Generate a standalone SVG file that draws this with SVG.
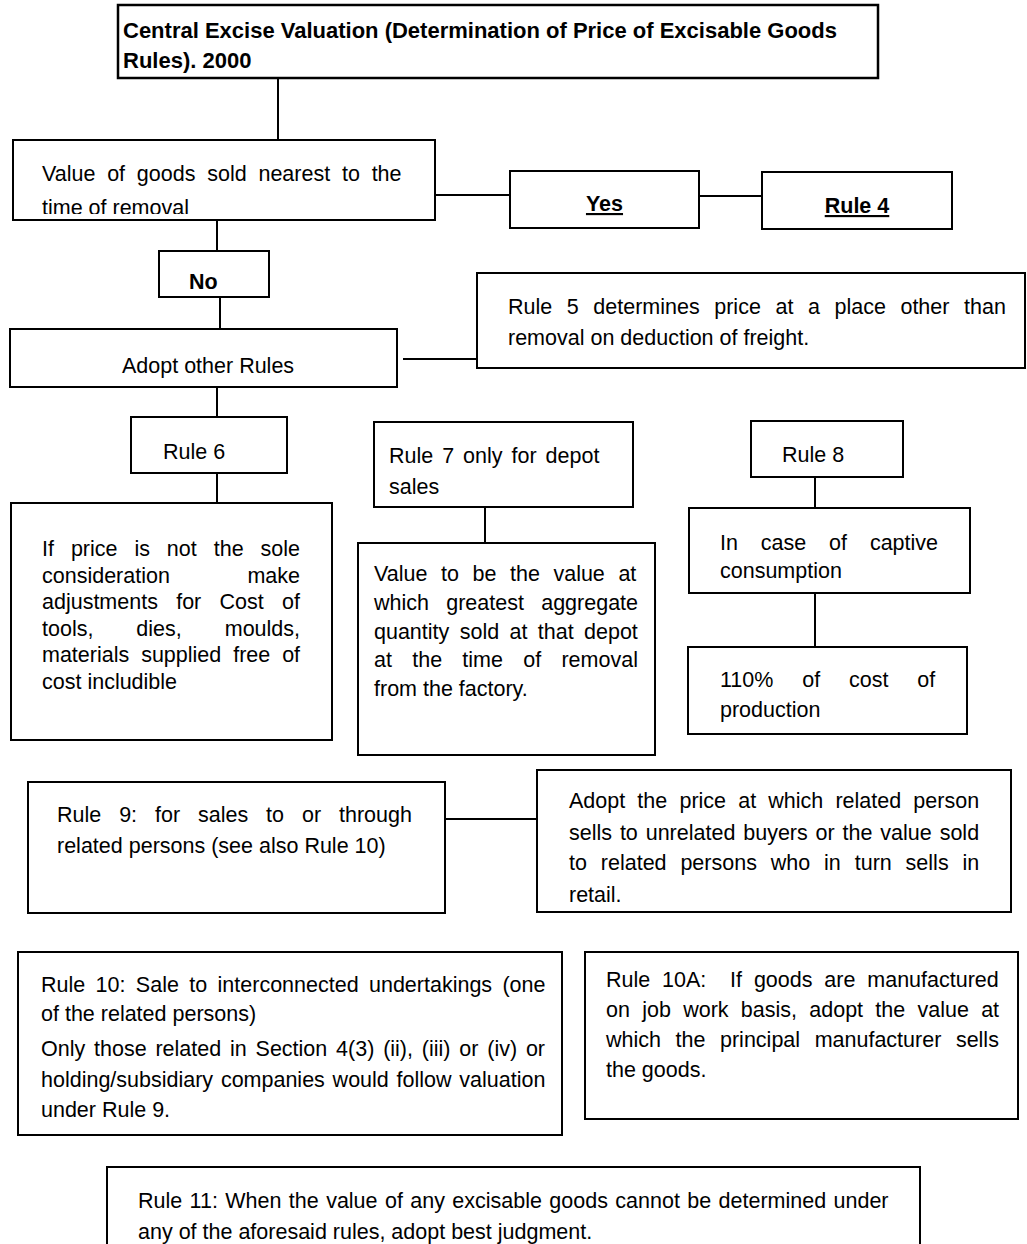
<svg xmlns="http://www.w3.org/2000/svg" width="1027" height="1244" viewBox="0 0 1027 1244">
  <style>
    .box { fill: #fff; stroke: #000; stroke-width: 2; }
    .title { stroke-width: 2.5; }
    .t { font-family: "Liberation Sans", Arial, sans-serif; font-size: 21.5px; fill: #000; }
    .b { font-weight: bold; }
    .u { text-decoration: underline; }
    .conn line { stroke: #000; stroke-width: 2; }
  </style>
  <defs>
    <clipPath id="clip-value">
      <rect x="13" y="140" width="422" height="74"/>
    </clipPath>
  </defs>
  <rect width="1027" height="1244" fill="#fff"/>

  <!-- connectors -->
  <g id="connectors" class="conn">
    <line x1="278" y1="78" x2="278" y2="140"/>
    <line x1="435" y1="195" x2="510" y2="195"/>
    <line x1="699" y1="196" x2="762" y2="196"/>
    <line x1="217" y1="220" x2="217" y2="251"/>
    <line x1="220" y1="297" x2="220" y2="329"/>
    <line x1="403" y1="359" x2="477" y2="359"/>
    <line x1="217" y1="387" x2="217" y2="417"/>
    <line x1="217" y1="473" x2="217" y2="503"/>
    <line x1="485" y1="507" x2="485" y2="543"/>
    <line x1="815" y1="477" x2="815" y2="508"/>
    <line x1="815" y1="593" x2="815" y2="647"/>
    <line x1="445" y1="819" x2="537" y2="819"/>
  </g>

  <g id="n-title">
    <rect class="box title" x="118" y="5" width="760" height="73"/>
    <text class="t b" style="font-size:22px" x="123" y="38">Central Excise Valuation (Determination of Price of Excisable Goods</text>
    <text class="t b" style="font-size:22px" x="123" y="68">Rules). 2000</text>
  </g>

  <g id="n-value">
    <rect class="box" x="13" y="140" width="422" height="80"/>
    <g clip-path="url(#clip-value)">
      <text class="t" x="42" y="181" word-spacing="5.8">Value of goods sold nearest to the</text>
      <text class="t" x="42" y="215">time of removal</text>
    </g>
  </g>

  <g id="n-yes">
    <rect class="box" x="510" y="171" width="189" height="57"/>
    <text class="t b u" x="604.5" y="211" text-anchor="middle">Yes</text>
  </g>

  <g id="n-rule4">
    <rect class="box" x="762" y="172" width="190" height="57"/>
    <text class="t b u" x="857" y="213" text-anchor="middle">Rule 4</text>
  </g>

  <g id="n-no">
    <rect class="box" x="159" y="251" width="110" height="46"/>
    <text class="t b" x="189" y="289">No</text>
  </g>

  <g id="n-rule5">
    <rect class="box" x="477" y="273" width="548" height="95"/>
    <text class="t" x="508" y="314" word-spacing="8.6">Rule 5 determines price at a place other than</text>
    <text class="t" x="508" y="345">removal on deduction of freight.</text>
  </g>

  <g id="n-adopt">
    <rect class="box" x="10" y="329" width="387" height="58"/>
    <text class="t" x="122" y="373">Adopt other Rules</text>
  </g>

  <g id="n-rule6">
    <rect class="box" x="131" y="417" width="156" height="56"/>
    <text class="t" x="163" y="459">Rule 6</text>
  </g>

  <g id="n-rule6-detail">
    <rect class="box" x="11" y="503" width="321" height="237"/>
    <text class="t" x="42" y="556" word-spacing="10.96">If price is not the sole</text>
    <text class="t" x="42" y="582.5" word-spacing="71.6">consideration make</text>
    <text class="t" x="42" y="609" word-spacing="12.3">adjustments for Cost of</text>
    <text class="t" x="42" y="635.5" word-spacing="37">tools, dies, moulds,</text>
    <text class="t" x="42" y="662" word-spacing="5.95">materials supplied free of</text>
    <text class="t" x="42" y="688.5">cost includible</text>
  </g>

  <g id="n-rule7">
    <rect class="box" x="374" y="422" width="259" height="85"/>
    <text class="t" x="389" y="463" word-spacing="3">Rule 7 only for depot</text>
    <text class="t" x="389" y="494">sales</text>
  </g>

  <g id="n-rule7-detail">
    <rect class="box" x="358" y="543" width="297" height="212"/>
    <text class="t" x="374" y="581" word-spacing="7.6">Value to be the value at</text>
    <text class="t" x="374" y="610" word-spacing="11.3">which greatest aggregate</text>
    <text class="t" x="374" y="639" word-spacing="4.4">quantity sold at that depot</text>
    <text class="t" x="374" y="667" word-spacing="14.3">at the time of removal</text>
    <text class="t" x="374" y="696">from the factory.</text>
  </g>

  <g id="n-rule8">
    <rect class="box" x="751" y="421" width="152" height="56"/>
    <text class="t" x="782" y="462">Rule 8</text>
  </g>

  <g id="n-captive">
    <rect class="box" x="689" y="508" width="281" height="85"/>
    <text class="t" x="720" y="550" word-spacing="16.9">In case of captive</text>
    <text class="t" x="720" y="578">consumption</text>
  </g>

  <g id="n-cost">
    <rect class="box" x="688" y="647" width="279" height="87"/>
    <text class="t" x="720" y="687" word-spacing="22.9">110% of cost of</text>
    <text class="t" x="720" y="717">production</text>
  </g>

  <g id="n-rule9">
    <rect class="box" x="28" y="782" width="417" height="131"/>
    <text class="t" x="57" y="822" word-spacing="11.95">Rule 9: for sales to or through</text>
    <text class="t" x="57" y="853">related persons (see also Rule 10)</text>
  </g>

  <g id="n-related-price">
    <rect class="box" x="537" y="770" width="474" height="142"/>
    <text class="t" x="569" y="808" word-spacing="6.2">Adopt the price at which related person</text>
    <text class="t" x="569" y="840" word-spacing="1.9">sells to unrelated buyers or the value sold</text>
    <text class="t" x="569" y="870" word-spacing="7.9">to related persons who in turn sells in</text>
    <text class="t" x="569" y="902">retail.</text>
  </g>

  <g id="n-rule10">
    <rect class="box" x="18" y="952" width="544" height="183"/>
    <text class="t" x="41" y="992" word-spacing="4.4">Rule 10: Sale to interconnected undertakings (one</text>
    <text class="t" x="41" y="1021">of the related persons)</text>
    <text class="t" x="41" y="1056" word-spacing="2.85">Only those related in Section 4(3) (ii), (iii) or (iv) or</text>
    <text class="t" x="41" y="1087" word-spacing="1.8">holding/subsidiary companies would follow valuation</text>
    <text class="t" x="41" y="1117">under Rule 9.</text>
  </g>

  <g id="n-rule10a">
    <rect class="box" x="585" y="952" width="433" height="167"/>
    <text class="t" x="606" y="987" word-spacing="5.9" xml:space="preserve">Rule 10A:  If goods are manufactured</text>
    <text class="t" x="606" y="1017" word-spacing="6.3">on job work basis, adopt the value at</text>
    <text class="t" x="606" y="1047" word-spacing="8.6">which the principal manufacturer sells</text>
    <text class="t" x="606" y="1077">the goods.</text>
  </g>

  <g id="n-rule11">
    <rect class="box" x="107" y="1167" width="813" height="100"/>
    <text class="t" x="138" y="1208" word-spacing="1.42">Rule 11: When the value of any excisable goods cannot be determined under</text>
    <text class="t" x="138" y="1239">any of the aforesaid rules, adopt best judgment.</text>
  </g>
</svg>
